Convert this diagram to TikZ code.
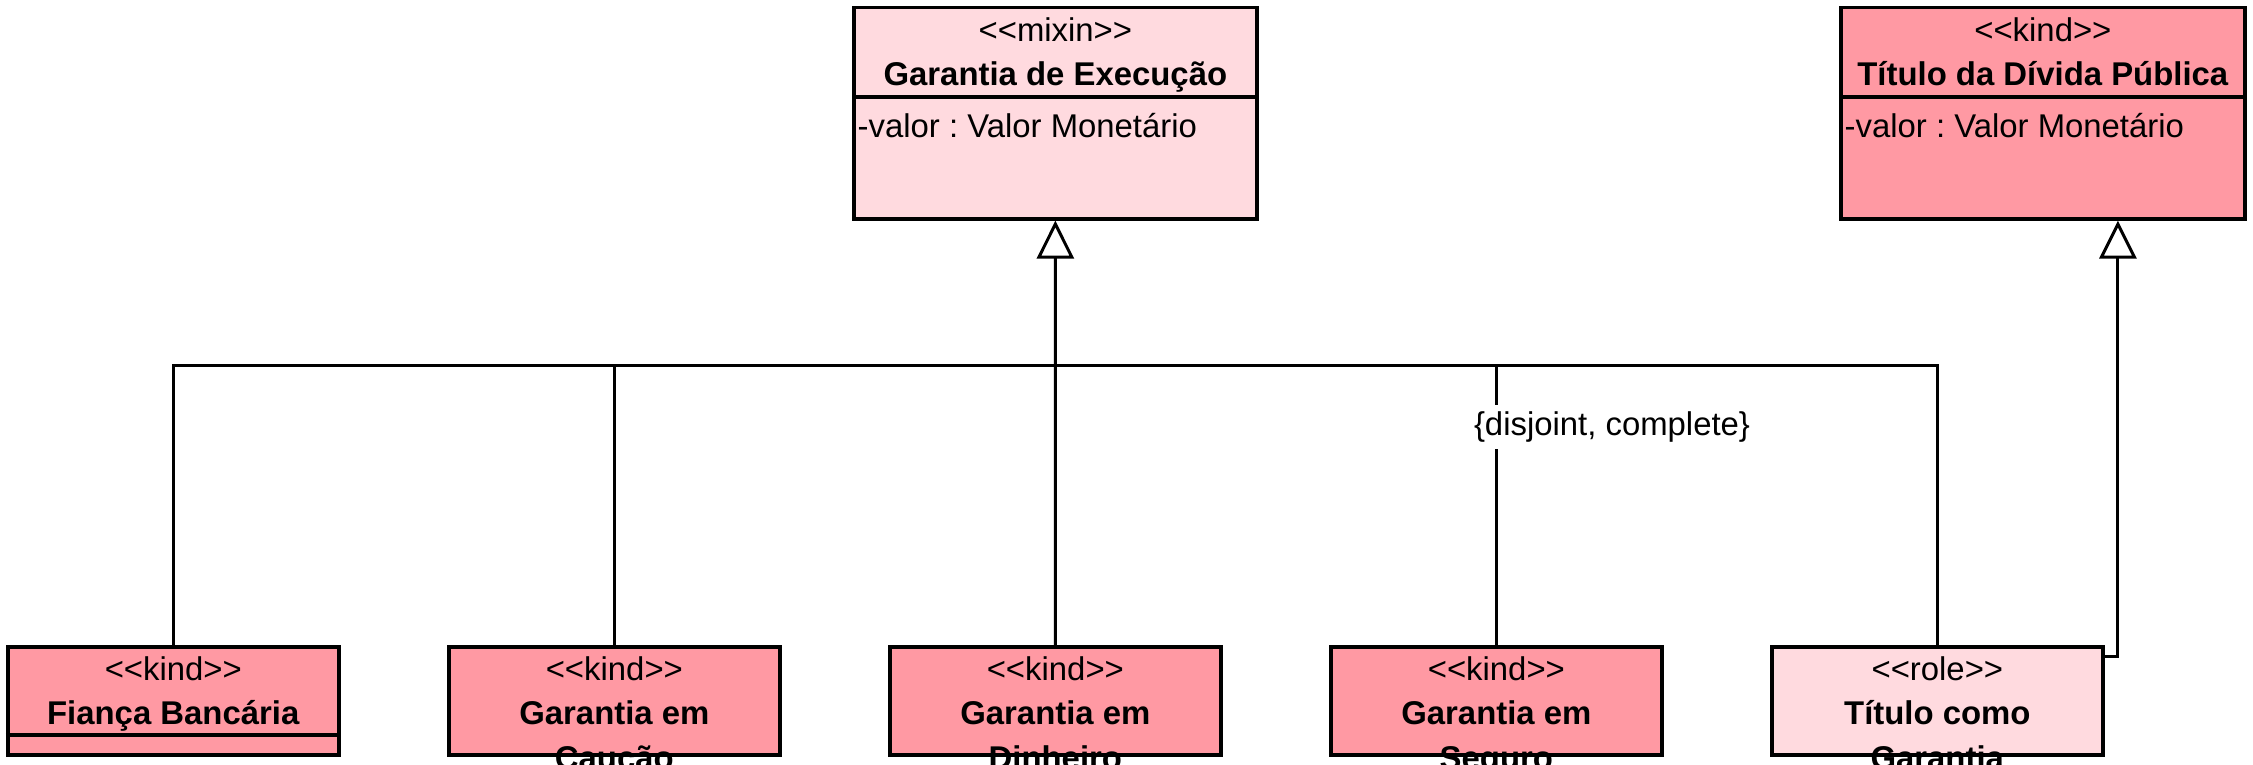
\documentclass[tikz,border=0pt]{standalone}
\usepackage{fontspec}
\setmainfont{Liberation Sans}
\usetikzlibrary{positioning,arrows.meta}
\definecolor{kindpink}{RGB}{255,153,163}
\definecolor{softpink}{RGB}{255,218,223}
\newcommand\stereo[1]{{<}{<}#1{>}{>}}
\frenchspacing

\begin{document}
\begin{tikzpicture}[x=0.01cm,y=-0.01cm,font=\fontsize{9.35}{11}\selectfont,
    cls/.style={draw,line width=1pt,inner sep=0pt,anchor=north west},
    lbl/.style={anchor=base,inner sep=0pt},
    attr/.style={anchor=base west,inner sep=0pt},
    conn/.style={line width=0.85pt},
    gen/.style={conn,-{Triangle[open,length=0.38cm,width=0.37cm,line width=0.85pt]}}]
  \useasboundingbox (0,0) rectangle (2253,765);
  % supertypes
  \node[cls,fill=softpink,minimum width=4.03cm,minimum height=2.11cm] (exec) at (852,6) {};
  \node[lbl] (execS) at ([yshift=-0.35cm]exec.north) {\stereo{mixin}};
  \node[lbl] (execN) at ([yshift=-0.79cm]exec.north) {\textbf{Garantia de Execução}};
  \draw[line width=1pt] ([yshift=-0.91cm]exec.north west) -- ([yshift=-0.91cm]exec.north east);
  \node[attr] (execA) at ([xshift=0.05cm,yshift=-1.31cm]exec.north west) {-valor : Valor Monetário};
  \node[cls,fill=kindpink,minimum width=4.04cm,minimum height=2.11cm] (titulo) at (1839,6) {};
  \node[lbl] (tituloS) at ([yshift=-0.35cm]titulo.north) {\stereo{kind}};
  \node[lbl] (tituloN) at ([yshift=-0.79cm]titulo.north) {\textbf{Título da Dívida Pública}};
  \draw[line width=1pt] ([yshift=-0.91cm]titulo.north west) -- ([yshift=-0.91cm]titulo.north east);
  \node[attr] (tituloA) at ([xshift=0.05cm,yshift=-1.31cm]titulo.north west) {-valor : Valor Monetário};
  % subtypes
  \node[cls,fill=kindpink,minimum width=3.31cm,minimum height=1.08cm] (fianca) at (6,645) {};
  \node[lbl] (fiancaS) at ([yshift=-0.35cm]fianca.north) {\stereo{kind}};
  \node[lbl] (fiancaN) at ([yshift=-0.79cm]fianca.north) {\textbf{Fiança Bancária}};
  \draw[line width=1pt] ([yshift=-0.90cm]fianca.north west) -- ([yshift=-0.90cm]fianca.north east);
  \node[cls,fill=kindpink,minimum width=3.31cm,minimum height=1.08cm] (caucao) at (447,645) {};
  \node[lbl] (caucaoS) at ([yshift=-0.35cm]caucao.north) {\stereo{kind}};
  \node[lbl] (caucaoN) at ([yshift=-0.79cm]caucao.north) {\textbf{Garantia em}};
  \node[lbl] (caucaoM) at ([yshift=-1.24cm]caucao.north) {\textbf{Caução}};
  \node[cls,fill=kindpink,minimum width=3.31cm,minimum height=1.08cm] (dinheiro) at (888,645) {};
  \node[lbl] (dinheiroS) at ([yshift=-0.35cm]dinheiro.north) {\stereo{kind}};
  \node[lbl] (dinheiroN) at ([yshift=-0.79cm]dinheiro.north) {\textbf{Garantia em}};
  \node[lbl] (dinheiroM) at ([yshift=-1.24cm]dinheiro.north) {\textbf{Dinheiro}};
  \node[cls,fill=kindpink,minimum width=3.31cm,minimum height=1.08cm] (seguro) at (1329,645) {};
  \node[lbl] (seguroS) at ([yshift=-0.35cm]seguro.north) {\stereo{kind}};
  \node[lbl] (seguroN) at ([yshift=-0.79cm]seguro.north) {\textbf{Garantia em}};
  \node[lbl] (seguroM) at ([yshift=-1.24cm]seguro.north) {\textbf{Seguro}};
  \node[cls,fill=softpink,minimum width=3.31cm,minimum height=1.08cm] (tcg) at (1770,645) {};
  \node[lbl] (tcgS) at ([yshift=-0.35cm]tcg.north) {\stereo{role}};
  \node[lbl] (tcgN) at ([yshift=-0.79cm]tcg.north) {\textbf{Título como}};
  \node[lbl] (tcgM) at ([yshift=-1.24cm]tcg.north) {\textbf{Garantia}};
  % generalization set
  \coordinate (gs) at (1053,366);
  \draw[conn] (fianca.north) |- (tcg.north |- gs) -- (tcg.north);
  \draw[conn] (caucao.north) -- (caucao.north |- gs);
  \draw[conn] (seguro.north) -- (seguro.north |- gs);
  \draw[gen] (dinheiro.north) -- (exec.south);
  \node[fill=white,inner sep=2pt] (gsLbl) at (1612,427) {\{disjoint, complete\}};
  % role to its kind
  \draw[gen] ([yshift=-0.12cm]tcg.north east) -| ([xshift=0.75cm]titulo.south);
\end{tikzpicture}
\end{document}
